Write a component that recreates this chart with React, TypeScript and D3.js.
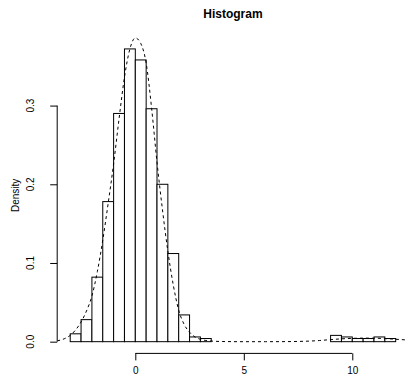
import { useRef, useEffect } from "react";
import * as d3 from "d3";

// histogram bins (width 0.5) and their densities
const BREAKS = [
  -3, -2.5, -2, -1.5, -1, -0.5, 0, 0.5, 1, 1.5, 2, 2.5, 3, 3.5, 4, 4.5, 5, 5.5, 6,
  6.5, 7, 7.5, 8, 8.5, 9, 9.5, 10, 10.5, 11, 11.5, 12,
];
const DENSITY = [
  0.01, 0.028, 0.082, 0.178, 0.29, 0.372, 0.358, 0.296, 0.2, 0.112, 0.034, 0.006,
  0.004, 0, 0, 0, 0, 0, 0, 0, 0, 0, 0, 0, 0.008, 0.006, 0.004, 0.004, 0.006, 0.004,
];

// dashed density curve
const CURVE_X = [
  -3.6, -3.25, -3, -2.75, -2.5, -2.25, -2, -1.75, -1.5, -1.25, -1, -0.75, -0.5,
  -0.25, 0, 0.25, 0.5, 0.75, 1, 1.25, 1.5, 1.75, 2, 2.25, 2.5, 2.75, 3, 3.25, 3.5,
  4, 5, 6, 7, 7.5, 8, 8.5, 9, 9.5, 10, 10.5, 11, 11.5, 12, 12.5, 12.8,
];
const CURVE_Y = [
  0.001, 0.004, 0.008, 0.015, 0.025, 0.039, 0.058, 0.089, 0.129, 0.176, 0.226,
  0.283, 0.336, 0.372, 0.386, 0.379, 0.354, 0.297, 0.228, 0.168, 0.115, 0.072,
  0.04, 0.022, 0.012, 0.006, 0.003, 0.0015, 0.0008, 0.0002, 0, 0, 0.0001, 0.0003,
  0.0007, 0.0015, 0.0026, 0.0036, 0.0042, 0.0045, 0.0044, 0.0039, 0.0031, 0.0022,
  0.0017,
];

const X_TICKS = [0, 5, 10];
const Y_TICKS = [0, 0.1, 0.2, 0.3];

const FONT = "'Liberation Sans', Arial, Helvetica, sans-serif";

export default function App() {
  const svgRef = useRef<SVGSVGElement>(null);

  useEffect(() => {
    if (!svgRef.current) return;
    const svg = d3.select(svgRef.current);
    svg.selectAll("*").remove();

    const plot = { left: 57.2, right: 408.7, top: 37.2, bottom: 353.4 };

    const x = d3.scaleLinear().domain([-3.6, 12.6]).range([plot.left, plot.right]);
    const y = d3.scaleLinear().domain([-0.0149, 0.3869]).range([plot.bottom, plot.top]);

    svg
      .append("defs")
      .append("clipPath")
      .attr("id", "plotclip")
      .append("rect")
      .attr("x", plot.left)
      .attr("y", plot.top)
      .attr("width", plot.right - plot.left)
      .attr("height", plot.bottom - plot.top);

    const bins = DENSITY.map((d, i) => ({ x0: BREAKS[i], x1: BREAKS[i + 1], d }));

    svg
      .append("g")
      .selectAll("rect")
      .data(bins)
      .join("rect")
      .attr("x", (b) => x(b.x0))
      .attr("y", (b) => y(b.d))
      .attr("width", (b) => x(b.x1) - x(b.x0))
      .attr("height", (b) => y(0) - y(b.d))
      .attr("fill", "white")
      .attr("stroke", "black")
      .attr("stroke-width", 1);

    // density curve
    const pts = CURVE_X.map((v, i) => [v, CURVE_Y[i]] as [number, number]);
    const line = d3
      .line<[number, number]>()
      .x((d) => x(d[0]))
      .y((d) => y(d[1]))
      .curve(d3.curveMonotoneX);

    svg
      .append("path")
      .attr("d", line(pts))
      .attr("clip-path", "url(#plotclip)")
      .attr("fill", "none")
      .attr("stroke", "black")
      .attr("stroke-width", 1)
      .attr("stroke-dasharray", "3,3");

    // x axis, R style: line only between first and last tick
    const gx = svg
      .append("g")
      .attr("transform", `translate(0,${plot.bottom})`)
      .call(d3.axisBottom(x).tickValues(X_TICKS).tickSize(7).tickPadding(7).tickFormat(d3.format("d")));
    gx.select(".domain").remove();
    gx.append("line")
      .attr("x1", x(X_TICKS[0]))
      .attr("x2", x(X_TICKS[X_TICKS.length - 1]))
      .attr("stroke", "black");
    gx.selectAll("text").attr("fill", "black").style("font-size", "10px").style("font-family", FONT);

    // y axis
    const gy = svg
      .append("g")
      .attr("transform", `translate(${plot.left},0)`)
      .call(d3.axisLeft(y).tickValues(Y_TICKS).tickSize(7).tickFormat(() => ""));
    gy.select(".domain").remove();
    gy.append("line")
      .attr("y1", y(Y_TICKS[0]))
      .attr("y2", y(Y_TICKS[Y_TICKS.length - 1]))
      .attr("stroke", "black");

    svg
      .append("g")
      .selectAll("text")
      .data(Y_TICKS)
      .join("text")
      .attr("transform", (d) => `translate(33.5,${y(d)}) rotate(-90)`)
      .attr("text-anchor", "middle")
      .attr("fill", "black")
      .style("font-size", "10px")
      .style("font-family", FONT)
      .text((d) => d3.format(".1f")(d));

    // axis label
    svg
      .append("text")
      .attr("transform", `translate(18.5,${(plot.top + plot.bottom) / 2}) rotate(-90)`)
      .attr("text-anchor", "middle")
      .attr("fill", "black")
      .style("font-size", "10px")
      .style("font-family", FONT)
      .text("Density");

    // title
    svg
      .append("text")
      .attr("x", (plot.left + plot.right) / 2)
      .attr("y", 18)
      .attr("text-anchor", "middle")
      .attr("fill", "black")
      .style("font-size", "12px")
      .style("font-weight", "bold")
      .style("font-family", FONT)
      .text("Histogram");
  }, []);

  return (
    <svg
      ref={svgRef}
      width={406}
      height={376}
      style={{ position: "absolute", left: 0, top: 0, background: "white" }}
    />
  );
}
